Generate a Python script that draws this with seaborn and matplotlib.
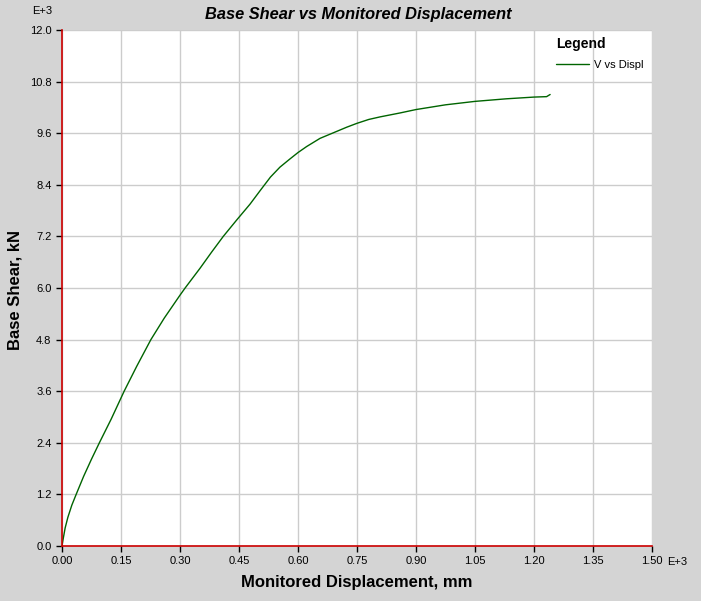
import numpy as np
import pandas as pd
import seaborn as sns
import matplotlib.pyplot as plt

# values as shown on the chart (units of E+3)
displ = [0.000, 0.0025, 0.008, 0.015, 0.025, 0.036, 0.055, 0.075, 0.095, 0.125,
         0.158, 0.190, 0.226, 0.260, 0.299, 0.313, 0.351, 0.380, 0.410, 0.444,
         0.478, 0.505, 0.530, 0.554, 0.578, 0.600, 0.622, 0.656, 0.690, 0.724,
         0.750, 0.780, 0.809, 0.859, 0.900, 0.975, 1.050, 1.130, 1.200, 1.232, 1.241]
shear = [0.00, 0.14, 0.42, 0.67, 0.95, 1.20, 1.62, 2.02, 2.40, 2.95,
         3.60, 4.18, 4.80, 5.30, 5.82, 6.00, 6.46, 6.83, 7.20, 7.58,
         7.95, 8.28, 8.58, 8.81, 8.99, 9.15, 9.29, 9.48, 9.61, 9.74,
         9.83, 9.92, 9.98, 10.07, 10.15, 10.26, 10.34, 10.40, 10.44, 10.45, 10.50]
xticks = [0.00, 0.15, 0.30, 0.45, 0.60, 0.75, 0.90, 1.05, 1.20, 1.35, 1.50]
yticks = [0.0, 1.2, 2.4, 3.6, 4.8, 6.0, 7.2, 8.4, 9.6, 10.8, 12.0]

df = pd.DataFrame({'displ': displ, 'shear': shear, 'series': 'V vs Displ'})

sns.set_style('white')
plt.rcParams['font.family'] = ['Liberation Sans', 'DejaVu Sans']
plt.rcParams['text.color'] = 'black'

bg = '#d4d4d4'
fig = plt.figure(figsize=(7.01, 6.01), dpi=100, facecolor=bg)
ax = fig.add_axes([62 / 701, 55 / 601, 590 / 701, 516 / 601])
ax.set_facecolor('white')

sns.lineplot(data=df, x='displ', y='shear', hue='series', palette=['#006400'],
             sort=False, estimator=None, linewidth=1, ax=ax)

ax.set_xlim(0, 1.5)
ax.set_ylim(0, 12.0)
ax.set_xticks(xticks)
ax.set_yticks(yticks)
ax.set_xticklabels([f'{v:.2f}' for v in xticks])
ax.set_yticklabels([f'{v:.1f}' for v in yticks])
ax.tick_params(axis='both', direction='out', length=4, width=1, color='black',
               labelsize=8, labelcolor='black', pad=3.5, bottom=True, left=True)
ax.grid(True, color='#cccccc', linewidth=1)

for side in ['top', 'right']:
    ax.spines[side].set_visible(False)
for side in ['left', 'bottom']:
    ax.spines[side].set_color('#cc0000')
    ax.spines[side].set_linewidth(1.2)
    ax.spines[side].set_zorder(5)

ax.set_xlabel('')
ax.set_ylabel('')
fig.text(357 / 701, 1 - 583 / 601, 'Monitored Displacement, mm', ha='center', va='center',
         fontsize=12, fontweight='bold', color='black')
fig.text(15 / 701, 1 - 290 / 601, 'Base Shear, kN', ha='center', va='center',
         rotation=90, fontsize=12, fontweight='bold', color='black')
fig.text(358 / 701, 1 - 14 / 601, 'Base Shear vs Monitored Displacement', ha='center',
         va='center', fontsize=11.8, fontweight='bold', fontstyle='italic', color='black')
fig.text(32 / 701, 1 - 11 / 601, 'E+3', ha='left', va='center', fontsize=8, color='black')
fig.text(667 / 701, 1 - 562 / 601, 'E+3', ha='left', va='center', fontsize=8, color='black')

leg = ax.legend(title='Legend', loc='upper left', frameon=False,
                bbox_to_anchor=(548 / 701, 1 - 29 / 601), bbox_transform=fig.transFigure,
                fontsize=8, handlelength=3.0, handletextpad=0.4, borderpad=0.2,
                labelspacing=0.85, title_fontproperties={'weight': 'bold', 'size': 10})
leg._legend_box.align = 'left'
leg.get_title().set_color('black')
for t in leg.get_texts():
    t.set_color('black')

fig.savefig('out.png', dpi=100, facecolor=bg)
